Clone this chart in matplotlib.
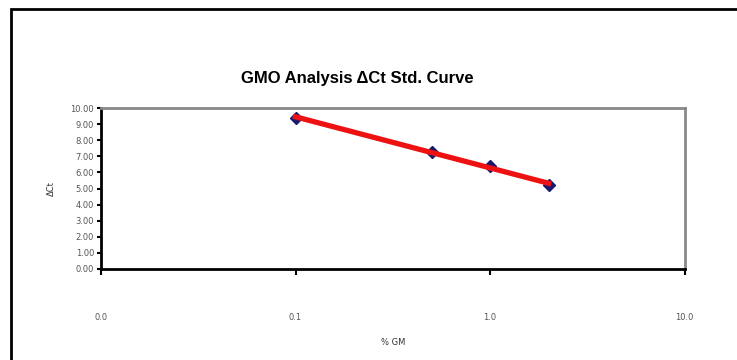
import matplotlib.pyplot as plt
import matplotlib.patches as patches
import numpy as np

# data
pct_gm = [0.1, 0.5, 1.0, 2.0]
delta_ct = [9.4, 7.3, 6.4, 5.2]
x_ticks = [0.01, 0.1, 1.0, 10.0]
x_tick_labels = ["0.0", "0.1", "1.0", "10.0"]
y_ticks = np.arange(0, 11, 1)

fig = plt.figure(figsize=(7.37, 3.6), dpi=100)
ax = fig.add_axes([0.137, 0.2528, 0.792, 0.447])

# log trend line (Excel style)
a, b = np.polyfit(np.log10(pct_gm), delta_ct, 1)
xs = np.logspace(np.log10(pct_gm[0]), np.log10(pct_gm[-1]), 50)
ax.plot(pct_gm, delta_ct, linestyle='none', marker='D', markersize=6,
        color='#1a1a6e', zorder=2)
ax.plot(xs, a*np.log10(xs) + b, color='#ee1111', linewidth=3.8, zorder=3)

ax.set_xscale('log')
ax.set_xlim(0.01, 10)
ax.set_ylim(0, 10)
ax.set_xticks(x_ticks)
ax.set_xticklabels(x_tick_labels)
ax.xaxis.set_minor_locator(plt.NullLocator())
ax.set_yticks(y_ticks)
ax.set_yticklabels([f"{v:.2f}" for v in y_ticks])
ax.tick_params(axis='both', labelsize=6, labelcolor='#555555', color='black',
               direction='out', width=1.5)
ax.tick_params(axis='x', length=4, pad=28)
ax.tick_params(axis='y', length=3, pad=2)

ax.spines['left'].set_linewidth(2)
ax.spines['bottom'].set_linewidth(2)
ax.spines['top'].set_color('#888888')
ax.spines['right'].set_color('#888888')
ax.spines['top'].set_linewidth(2)
ax.spines['right'].set_linewidth(2)

ax.set_xlabel("% GM", fontsize=6, color='#333333', labelpad=11)
ax.set_ylabel("ΔCt", fontsize=6, color='#333333')
ax.yaxis.set_label_coords(-0.077, 0.5)

fig.text(0.485, 0.783, "GMO Analysis ΔCt Std. Curve", ha='center', va='center',
         fontsize=12, fontweight='bold',
         family=['Liberation Sans Narrow', 'Liberation Sans', 'DejaVu Sans'])

# outer chart frame, cut off at right and bottom
frame = patches.Rectangle((0.0156, -0.1), 1.1, 1.075, transform=fig.transFigure,
                          fill=False, edgecolor='black', linewidth=2, clip_on=False)
fig.patches.append(frame)

fig.savefig("out.png", dpi=100)
